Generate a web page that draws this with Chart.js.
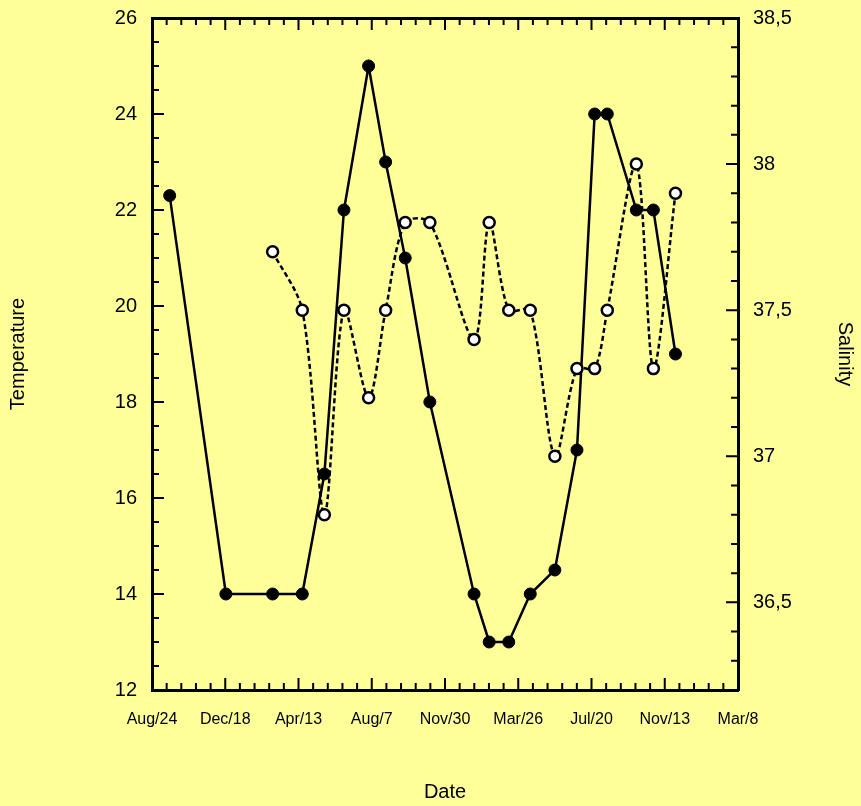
<!DOCTYPE html>
<html>
<head>
<meta charset="utf-8">
<script src="https://cdn.jsdelivr.net/npm/chart.js@4.4.1/dist/chart.umd.min.js"></script>
<style>
  html, body { margin: 0; padding: 0; background: #ffff99; }
  #chart { display: block; }
</style>
</head>
<body>
<canvas id="chart" width="861" height="806"></canvas>
<script>
// days counted from Aug/24, one major tick every 116 days
const dateTicks = ['Aug/24', 'Dec/18', 'Apr/13', 'Aug/7', 'Nov/30', 'Mar/26', 'Jul/20', 'Nov/13', 'Mar/8'];
const tempTicks = [12, 14, 16, 18, 20, 22, 24, 26];
const salinityTicks = [36.5, 37, 37.5, 38, 38.5];

const tempDays = [28, 117, 191, 238, 273, 304, 343, 370, 401, 440, 510, 534, 565, 599, 638, 673, 701, 721, 767, 794, 829];
const temperature = [22.3, 14, 14, 14, 16.5, 22, 25, 23, 21, 18, 14, 13, 13, 14, 14.5, 17, 24, 24, 22, 22, 19];

const salinityDays = [191, 238, 273, 304, 343, 370, 401, 440, 510, 534, 565, 599, 638, 673, 701, 721, 767, 794, 829];
const salinity = [37.7, 37.5, 36.8, 37.5, 37.2, 37.5, 37.8, 37.8, 37.4, 37.8, 37.5, 37.5, 37.0, 37.3, 37.3, 37.5, 38.0, 37.3, 37.9];

const FONT = 'Liberation Sans, Arial, Helvetica, sans-serif';
const STEP = 116;

// tick marks pointing into the plot, on all four sides
const innerTicks = {
    id: 'innerTicks',
    afterDraw(chart) {
        const { ctx, chartArea: a, scales } = chart;
        ctx.save();
        ctx.strokeStyle = '#000';
        ctx.lineWidth = 2;
        ctx.beginPath();

        const marks = (scale, minor, major) => {
            const n = Math.round((scale.max - scale.min) / minor);
            const out = [];
            for (let k = 0; k <= n; k++) {
                const v = scale.min + k * minor;
                const r = v / major;
                out.push({ p: scale.getPixelForValue(v), big: Math.abs(r - Math.round(r)) < 1e-6 });
            }
            return out;
        };

        marks(scales.x, STEP / 5, STEP).forEach(m => {
            const len = m.big ? 12 : 7;
            ctx.moveTo(m.p, a.bottom); ctx.lineTo(m.p, a.bottom - len);
            ctx.moveTo(m.p, a.top); ctx.lineTo(m.p, a.top + len);
        });
        marks(scales.y, 0.5, 2).forEach(m => {
            const len = m.big ? 12 : 7;
            ctx.moveTo(a.left, m.p); ctx.lineTo(a.left + len, m.p);
        });
        marks(scales.y1, 0.1, 0.5).forEach(m => {
            const len = m.big ? 12 : 7;
            ctx.moveTo(a.right, m.p); ctx.lineTo(a.right - len, m.p);
        });
        ctx.stroke();
        ctx.restore();
    }
};

const setTicks = list => scale => { scale.ticks = list.map(v => ({ value: v })); };
const fixWidth = w => s => { s.width = w; s.paddingTop = 0; s.paddingBottom = 0; };

new Chart(document.getElementById('chart'), {
    type: 'line',
    data: {
        datasets: [{
            label: 'Salinity',
            data: salinityDays.map((d, i) => ({ x: d, y: salinity[i] })),
            yAxisID: 'y1',
            borderColor: '#000',
            borderWidth: 2.5,
            borderDash: [5, 3],
            tension: 0.3,
            pointRadius: 5.5,
            pointBorderWidth: 2.5,
            pointBackgroundColor: '#fff',
            pointBorderColor: '#000',
        }, {
            label: 'Temperature',
            data: tempDays.map((d, i) => ({ x: d, y: temperature[i] })),
            yAxisID: 'y',
            borderColor: '#000',
            borderWidth: 2.5,
            tension: 0,
            pointRadius: 6,
            pointBorderWidth: 1,
            pointBackgroundColor: '#000',
            pointBorderColor: '#000',
        }],
    },
    options: {
        responsive: false,
        animation: false,
        layout: { padding: 0 },
        plugins: {
            legend: { display: false },
            tooltip: { enabled: false },
        },
        scales: {
            x: {
                type: 'linear',
                position: 'bottom',
                min: 0,
                max: STEP * 8,
                afterBuildTicks: setTicks(dateTicks.map((_, i) => i * STEP)),
                afterFit: s => { s.height = 116; },
                grid: { drawOnChartArea: false, drawTicks: false },
                border: { color: '#000', width: 3 },
                ticks: {
                    color: '#000',
                    padding: 20,
                    maxRotation: 0,
                    autoSkip: false,
                    font: { family: FONT, size: 16 },
                    callback: v => dateTicks[Math.round(v / STEP)],
                },
                title: {
                    display: true,
                    text: 'Date',
                    color: '#000',
                    padding: { top: 0, bottom: 2 },
                    font: { family: FONT, size: 20 },
                },
            },
            x2: {
                type: 'linear',
                position: 'top',
                min: 0,
                max: STEP * 8,
                afterFit: s => { s.height = 18; },
                grid: { drawOnChartArea: false, drawTicks: false },
                border: { color: '#000', width: 3 },
                ticks: { display: false },
            },
            y: {
                position: 'left',
                min: 12,
                max: 26,
                afterBuildTicks: setTicks(tempTicks),
                afterFit: fixWidth(152),
                grid: { drawOnChartArea: false, drawTicks: false },
                border: { color: '#000', width: 3 },
                ticks: {
                    color: '#000',
                    padding: 15,
                    font: { family: FONT, size: 20 },
                },
                title: {
                    display: true,
                    text: 'Temperature',
                    color: '#000',
                    padding: { top: 6, bottom: 0 },
                    font: { family: FONT, size: 20 },
                },
            },
            y1: {
                position: 'right',
                min: 36.2,
                max: 38.5,
                afterBuildTicks: setTicks(salinityTicks),
                afterFit: fixWidth(123),
                grid: { drawOnChartArea: false, drawTicks: false },
                border: { color: '#000', width: 3 },
                ticks: {
                    color: '#000',
                    padding: 15,
                    font: { family: FONT, size: 20 },
                    callback: v => String(v).replace('.', ','),
                },
                title: {
                    display: true,
                    text: 'Salinity',
                    color: '#000',
                    padding: { top: 4, bottom: 0 },
                    font: { family: FONT, size: 20 },
                },
            },
        },
    },
    plugins: [innerTicks],
});
</script>
</body>
</html>
